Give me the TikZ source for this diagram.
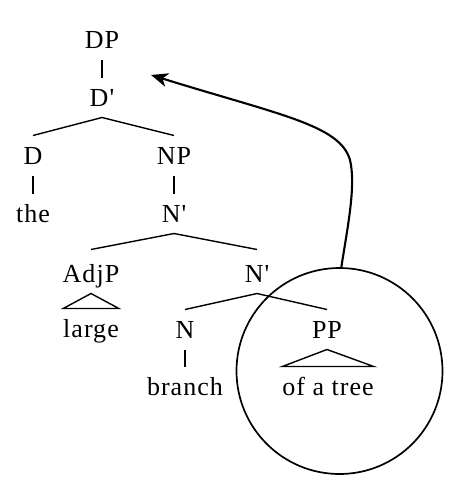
\documentclass[tikz,border=0pt]{standalone}
\usepackage{fontspec}
\newfontfamily\treefont{Liberation Serif}[LetterSpace=4,Ligatures=TeXOff]
\usetikzlibrary{arrows.meta}
\begin{document}
\begin{tikzpicture}[x=1pt,y=-1pt,
  lab/.style={inner sep=0pt, outer xsep=0pt, outer ysep=11.5pt, text height=17pt, text depth=0pt, anchor=base, font=\treefont\fontsize{26}{31}\selectfont},
  edge/.style={line width=1.4pt},
  tri/.style={line width=1.4pt, line join=miter}]
\fill[white] (0,0) rectangle (469,501);
\useasboundingbox (0,0) rectangle (469,501);
\node[lab] (DP) at (102,48.3) {DP};
\node[lab] (Dbar) at (102,106) {D'};
\node[lab] (D) at (33,164) {D};
\node[lab] (NP) at (174,164) {NP};
\node[lab] (the) at (33,222) {the};
\node[lab] (Nbar) at (174,222) {N'};
\node[lab] (AdjP) at (91,282) {AdjP};
\node[lab] (Nbarb) at (257,282) {N'};
\node[lab] (large) at (91,337) {large};
\node[lab] (N) at (185,338) {N};
\node[lab] (PP) at (327,338) {PP};
\node[lab] (branch) at (185,395) {branch};
\node[lab] (ofatree) at (328,395) {of a tree};
\draw[edge] (DP.south) -- (Dbar.north);
\draw[edge] (D.north) -- (Dbar.south) -- (NP.north);
\draw[edge] (D.south) -- (the.north);
\draw[edge] (NP.south) -- (Nbar.north);
\path (AdjP.north) ++(0,-4) coordinate (aj) (Nbarb.north) ++(0,-4) coordinate (nb);
\draw[edge] (aj) -- (Nbar.south) -- (nb);
\draw[tri] (AdjP.south) -- (large.north west) -- (large.north east) -- cycle;
\draw[edge] (N.north) -- (Nbarb.south) -- (PP.north);
\draw[edge] (N.south) -- (branch.north);
\draw[tri] (PP.south) -- (ofatree.north west) -- (ofatree.north east) -- cycle;
\node[circle, draw, line width=1.7pt, minimum size=206pt, inner sep=0pt] (circ) at (339.5,371) {};
\coordinate (tip) at (151,75);
\draw[line width=2.1pt, -{Stealth[length=17pt,width=14pt,inset=5pt]}] (circ.89) .. controls (348,225) and (356,185) .. (350,160) .. controls (340,125) and (280,115) .. (tip);
\end{tikzpicture}
\end{document}
